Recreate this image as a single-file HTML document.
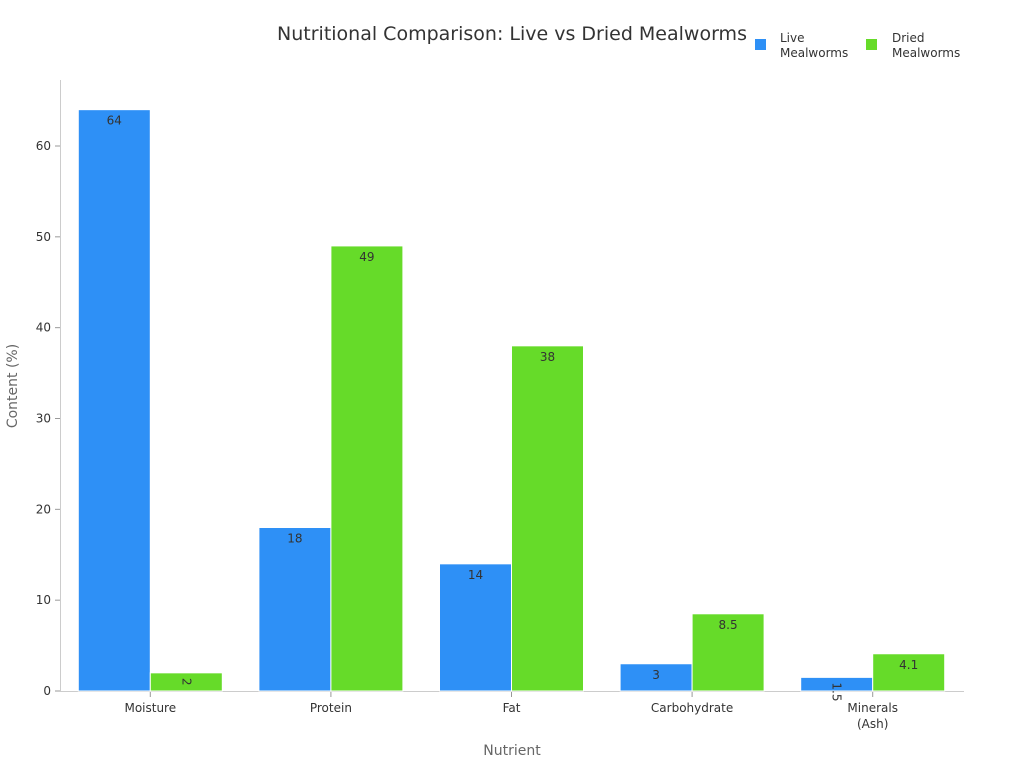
<!DOCTYPE html>
<html><head><meta charset="utf-8">
<style>
body{margin:0;background:#fff;font-family:"Liberation Sans","DejaVu Sans",sans-serif;}
svg text{font-family:"DejaVu Sans","Liberation Sans",sans-serif;}
</style></head>
<body>
<svg id="chart" width="1024" height="768" xmlns="http://www.w3.org/2000/svg">
<text x="512" y="40" text-anchor="middle" font-size="19" fill="#333">Nutritional Comparison: Live vs Dried Mealworms</text>
<g>
<rect x="755" y="39" width="11" height="11" fill="#2e90f6"/>
<text x="780" y="42" font-size="12" fill="#333">Live</text>
<text x="780" y="57" font-size="12" fill="#333">Mealworms</text>
<rect x="866" y="39" width="11" height="11" fill="#66db29"/>
<text x="892" y="42" font-size="12" fill="#333">Dried</text>
<text x="892" y="57" font-size="12" fill="#333">Mealworms</text>
</g>
<line x1="60.5" y1="80" x2="60.5" y2="692" stroke="#ccc"/>
<line x1="60" y1="691.5" x2="964" y2="691.5" stroke="#ccc"/>
<g id="marks"></g>
<text transform="translate(17,386) rotate(-90)" text-anchor="middle" font-size="14" fill="#666">Content (%)</text>
<text x="512" y="755" text-anchor="middle" font-size="14" fill="#666">Nutrient</text>
</svg>
<script>
const categories=[["Moisture"],["Protein"],["Fat"],["Carbohydrate"],["Minerals","(Ash)"]];
const liveValues=[64,18,14,3,1.5];
const driedValues=[2,49,38,8.5,4.1];
const yTicks=[0,10,20,30,40,50,60];
const NS="http://www.w3.org/2000/svg";
const g=document.getElementById('marks');
const x0=60,plotW=903,band=plotW/categories.length,barW=72;
const yScale=v=>691-v*(545/60);
const xCenter=i=>x0+band*(i+0.5);
function mk(tag,attrs,txt){const e=document.createElementNS(NS,tag);for(const k in attrs)e.setAttribute(k,attrs[k]);if(txt!==undefined)e.textContent=txt;g.appendChild(e);return e;}
yTicks.forEach(t=>{
 const y=yScale(t);
 const l=mk('line',{x1:55,x2:60,y1:y,y2:y,stroke:'#999'});
 
 
 const tx=mk('text',{x:51,y:y+4,'text-anchor':'end','font-size':12,fill:'#333'},t);
 
 
});
categories.forEach((c,i)=>{
 const cx=xCenter(i);
 const tk=mk('line',{x1:cx,x2:cx,y1:692,y2:697,stroke:'#999'});
 
 
 c.forEach((line,j)=>{
  const t=mk('text',{x:cx,y:712+j*16,'text-anchor':'middle','font-size':12,fill:'#333'},line);
  
  
 });
 [[liveValues[i],'#2e90f6',cx-barW,'live'],[driedValues[i],'#66db29',cx,'dried']].forEach(([v,col,bx,nm])=>{
  const y=yScale(v);
  const r=mk('rect',{x:bx,y:y,width:barW,height:691-y,fill:col,stroke:'#fff','stroke-width':1});
  
  
  const h=691-y;let lab;
  if(h<12){lab=mk('text',{x:bx+barW/2,y:y+h/2+2,'text-anchor':'middle','font-size':7,fill:'#333'},v);}
  else if(h<24){lab=mk('text',{transform:`translate(${bx+barW/2-4},${y+5}) rotate(90)`,'font-size':12,fill:'#333'},v);}
  else{lab=mk('text',{x:bx+barW/2,y:y+15,'text-anchor':'middle','font-size':12,fill:'#333'},v);}
  
  
 });
});
</script>
</body></html>
